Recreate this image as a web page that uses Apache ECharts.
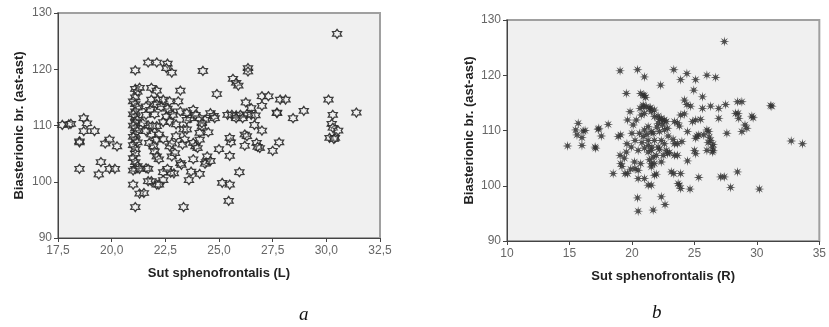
<!DOCTYPE html>
<html>
<head>
<meta charset="utf-8">
<script src="https://cdn.jsdelivr.net/npm/echarts@6/dist/echarts.min.js"></script>
<style>
  html, body { margin: 0; padding: 0; background: #fff; }
  #chart { width: 829px; height: 327px; }
</style>
</head>
<body>
<div id="chart"></div>
<script>
// left panel (a): Sut sphenofrontalis (L) vs Biasterionic br.
const leftPoints = [
  [17.7,110.1],[18.0,110.2],[18.1,110.3],[18.5,107.2],[18.5,107.0],[18.5,102.3],[18.7,111.3],[18.85,110.4],
  [18.7,109.0],[19.2,109.0],[19.4,101.3],[19.5,103.5],[19.7,106.8],[19.9,107.5],[19.9,102.3],[20.15,102.3],
  [20.25,106.3],[21.0,99.5],[21.1,119.8],[21.1,95.5],[21.3,97.9],[21.5,98.0],
  [21.1,116.5],[21.2,116.0],[21.1,115.0],[21.0,114.3],[21.1,113.8],[21.2,113.2],[21.1,112.5],[21.0,112.0],
  [21.1,111.5],[21.2,111.0],[21.1,110.5],[21.0,110.0],[21.1,109.5],[21.2,109.0],[21.1,108.4],[21.0,108.0],
  [21.1,107.4],[21.2,107.0],[21.0,106.5],[21.1,105.8],[21.1,105.0],[21.0,104.2],[21.1,103.5],[21.2,102.8],
  [21.1,102.3],[21.0,102.0],
  [21.3,116.7],[21.7,121.2],[22.1,121.2],[22.6,121.0],[22.55,120.2],[22.8,119.4],[21.85,116.7],[22.1,116.2],
  [21.85,114.6],[22.15,114.6],[22.1,113.8],[22.4,114.6],[22.7,114.3],[23.1,114.3],[23.2,116.2],[23.2,112.5],
  [24.25,119.7],[24.9,115.6],[25.65,118.3],[25.8,117.6],[25.9,117.1],[26.35,120.2],[26.35,119.6],[26.25,114.1],
  [26.5,113.1],[27.0,113.5],[27.0,115.2],[27.3,115.2],[27.85,114.6],[28.1,114.6],[27.7,112.3],[27.7,112.2],
  [28.45,111.3],[28.95,112.6],[30.1,114.6],[30.3,111.9],[30.25,110.3],[30.3,109.6],[30.15,107.8],[30.4,107.8],
  [30.35,107.6],[30.55,109.1],[30.5,126.3],[31.4,112.3],
  [27.0,109.1],[26.75,106.9],[26.9,106.0],[26.8,106.2],[27.5,105.5],[27.8,107.0],[26.65,110.1],[26.2,108.4],
  [26.3,108.1],[26.2,106.4],[25.95,101.7],[25.15,99.8],[25.5,99.5],[25.45,96.6],[25.5,104.6],[25.55,107.0],
  [25.5,107.8],[25.0,105.8],
  [25.4,111.9],[25.6,111.9],[25.8,111.8],[26.0,111.9],[26.3,112.0],[26.5,111.9],[26.7,111.8],[25.8,111.3],
  [26.1,111.3],
  [23.35,95.5],[23.6,100.3],[23.7,101.8],[24.1,101.4],[24.4,103.5],[24.35,103.2],[24.45,104.5],[22.9,101.5],
  [22.75,101.6],[22.4,101.7],[22.1,99.5],[21.85,100.1],[21.7,100.1],[21.6,102.4],[21.7,102.3],[21.3,102.3],
  [22.4,100.3],[22.2,99.5],[23.2,103.3],[23.25,103.0],[22.8,104.5],[22.7,106.3],[22.95,105.1],[23.0,108.1],
  [23.35,109.3],[23.5,109.3],[23.4,107.5],[23.3,106.6],[23.8,106.9],[23.9,106.3],[24.1,107.5],[24.1,108.7],
  [24.2,109.8],[24.35,111.0],[24.6,112.2],[24.75,111.7],[24.8,111.3],[24.1,111.3],[23.8,112.8],[23.65,111.3],
  [23.5,111.0],[22.7,112.5],[22.85,111.9],[22.55,111.6],[22.7,110.7],[22.4,110.6],[22.1,109.9],[21.85,108.4],
  [21.7,110.0],[21.9,109.9],[21.45,110.4],[21.6,111.9],[21.6,113.4],[21.75,106.9],[21.95,106.3],[22.0,105.4],
  [22.1,104.5],[22.2,104.0],[22.1,107.5],[22.2,108.4],
  [21.8,112.8],[22.0,112.0],[22.3,113.3],[22.6,113.0],[21.6,109.0],[22.4,107.6],[22.8,106.8],[23.0,110.2],
  [23.5,112.2],[23.9,111.9],[24.2,110.4],[24.5,108.8],[24.0,106.0],[23.8,104.0],[22.6,102.3],[24.6,103.7]
];

// right panel (b): Sut sphenofrontalis (R) vs Biasterionic br.
const rightPoints = [
  [14.85,107.2],[15.7,111.3],[15.5,110.1],[15.6,109.2],[16.0,108.7],[16.1,109.9],[16.25,110.0],[16.0,107.3],
  [17.05,107.0],[17.1,106.8],[17.35,110.4],[17.3,110.2],[17.55,109.0],[18.1,111.1],[18.5,102.2],[18.9,108.9],
  [19.1,109.2],[19.05,120.8],[19.55,116.7],[19.05,105.5],[19.1,104.0],[19.2,103.5],[19.45,102.2],[19.65,102.2],
  [19.55,106.1],[19.95,107.0],[19.85,113.4],[19.65,111.9],[20.45,121.0],[21.0,119.7],[20.7,116.7],[20.9,116.4],
  [20.45,97.8],[20.5,95.4],[21.7,95.6],[22.35,98.0],[22.65,96.6],[22.3,118.2],[23.35,121.0],[24.4,120.3],
  [23.9,119.2],[25.1,119.2],[26.0,120.0],[26.7,119.6],[27.4,126.1],[24.95,117.3],[25.65,116.1],[24.2,115.5],
  [24.7,114.4],[25.65,114.0],[26.3,114.4],[26.95,114.0],[27.5,114.7],[26.95,112.2],[28.45,115.2],[28.8,115.2],
  [28.3,113.1],[28.5,113.1],[28.55,112.2],[29.6,112.6],[29.7,112.3],[28.8,109.8],[29.2,110.4],[29.05,111.0],
  [31.2,114.4],[31.1,114.5],[27.6,109.5],[32.75,108.1],[33.65,107.6],[30.2,99.4],[28.45,102.5],[27.9,99.7],
  [27.1,101.6],[27.4,101.6],[25.35,101.5],[24.45,104.5],[24.65,99.4],[23.9,99.5],[23.8,100.1],[23.7,100.4],
  [23.35,102.2],[23.15,102.5],[23.9,102.2],[23.65,105.5],[23.4,105.5],[22.85,105.8],[22.75,106.4],[23.65,107.6],
  [23.4,107.6],[23.4,111.6],[23.65,111.4],[23.9,112.8],[24.85,111.6],[25.1,111.9],[24.45,109.8],[25.1,108.6],
  [25.35,109.2],[25.75,109.2],[26.0,110.1],[26.15,109.8],[26.3,108.2],[26.45,107.0],[26.45,106.1],[26.0,106.4],
  [26.5,106.4],[25.0,106.4],[25.1,105.8],[21.8,101.9],[21.95,102.1],[21.3,100.1],[21.55,100.1],[21.0,101.3],
  [20.5,101.3],[20.25,103.1],[20.5,102.8],[21.55,104.0],[21.8,104.0],[21.55,103.4],[21.95,105.5],[22.35,104.3],
  [21.3,106.1],[21.55,106.4],[20.5,106.4],[20.25,108.2],[20.6,109.5],[20.9,108.9],[21.0,110.1],[21.3,110.7],
  [21.55,109.8],[21.7,109.5],[21.3,108.2],[21.8,108.2],[21.3,107.3],[20.0,109.5],[20.1,111.0],[20.35,111.9],
  [20.75,112.8],[21.0,113.1],[20.65,114.0],[20.9,114.3],[21.15,114.3],[21.4,114.0],[21.55,113.4],[21.8,112.5],
  [22.1,112.6],[22.35,112.2],[22.6,111.9],[22.75,111.6],[22.1,111.3],[22.45,111.0],[22.6,110.1],[22.85,110.4],
  [22.2,109.8],[22.35,108.2],[22.6,107.6],[22.1,107.0],[21.7,105.2],
  [21.0,116.3],[21.1,116.0],[20.9,114.6],[21.5,114.1],[21.8,113.7],[22.2,112.0],[22.5,111.8],[22.0,110.6],
  [21.2,109.3],[20.8,107.8],[21.0,106.8],[21.6,107.0],[22.2,106.6],[22.5,105.5],[23.0,106.0],[21.4,104.7],
  [20.7,104.0],[20.2,104.3],[19.6,107.6],[19.4,105.0],[19.9,103.0],[22.9,109.0],[23.3,108.4],[24.0,108.0],
  [23.8,110.8],[24.2,113.0],[24.4,114.7],[25.5,112.0],[25.2,109.0],[26.2,108.8],[26.5,107.5],[26.1,107.8]
];

const yRange = [90, 130, 10];
const leftXRange = [17.5, 32.5, 2.5];
const rightXRange = [10, 35, 5];

// star shaped symbols
function starPath(n, inner) {
  let d = '';
  for (let i = 0; i < n * 2; i++) {
    const r = i % 2 ? inner : 1;
    const a = Math.PI * i / n - Math.PI / 2;
    d += (i ? 'L' : 'M') + (50 + 50 * r * Math.cos(a)).toFixed(1) + ',' + (50 + 50 * r * Math.sin(a)).toFixed(1);
  }
  return 'path://' + d + 'Z';
}

const chart = echarts.init(document.getElementById('chart'));

const labelStyle = { color: '#666', fontSize: 12, fontFamily: 'Liberation Sans' };
const nameStyle = { color: '#222', fontSize: 13, fontWeight: 'bold', fontFamily: 'Liberation Sans' };

function xAxisFor(gridIndex, range, title, fmt) {
  return {
    gridIndex: gridIndex,
    type: 'value',
    min: range[0], max: range[1], interval: range[2],
    name: title, nameLocation: 'middle', nameGap: 29, nameTextStyle: nameStyle,
    axisLine: { show: true, lineStyle: { color: '#444', width: 1 } },
    axisTick: { show: true, length: 4, lineStyle: { color: '#444' } },
    axisLabel: Object.assign({ margin: 7, formatter: fmt }, labelStyle),
    splitLine: { show: false }
  };
}

function yAxisFor(gridIndex, gap) {
  return {
    gridIndex: gridIndex,
    type: 'value',
    min: yRange[0], max: yRange[1], interval: yRange[2],
    name: 'Biasterionic br. (ast-ast)', nameLocation: 'middle', nameGap: gap, nameTextStyle: nameStyle,
    axisLine: { show: true, lineStyle: { color: '#444', width: 1 } },
    axisTick: { show: true, length: 4, lineStyle: { color: '#444' } },
    axisLabel: Object.assign({ margin: 6 }, labelStyle),
    splitLine: { show: false }
  };
}

const option = {
  animation: false,
  backgroundColor: '#fff',
  grid: [
    { left: 58, top: 13, width: 322, height: 225, show: true, backgroundColor: '#f0f0f0', borderColor: '#a0a0a0', borderWidth: 2 },
    { left: 507, top: 20, width: 316, height: 221, show: true, backgroundColor: '#f0f0f0', borderColor: '#a0a0a0', borderWidth: 2 }
  ],
  xAxis: [
    xAxisFor(0, leftXRange, 'Sut sphenofrontalis (L)', v => v.toFixed(1).replace('.', ',')),
    xAxisFor(1, rightXRange, 'Sut sphenofrontalis (R)', v => String(v))
  ],
  yAxis: [yAxisFor(0, 32), yAxisFor(1, 31)],
  series: [
    {
      type: 'scatter', xAxisIndex: 0, yAxisIndex: 0,
      symbol: starPath(6, 0.6), symbolSize: 9,
      itemStyle: { color: 'rgba(240,240,240,0.3)', borderColor: '#2a2a2a', borderWidth: 1.3, opacity: 0.9 },
      data: leftPoints
    },
    {
      type: 'scatter', xAxisIndex: 1, yAxisIndex: 1,
      symbol: starPath(8, 0.35), symbolSize: 10,
      itemStyle: { color: '#303030', opacity: 0.85 },
      data: rightPoints
    }
  ],
  graphic: [
    { type: 'text', left: 299, top: 305, style: { text: 'a', font: 'italic 19px "Liberation Serif"', fill: '#111' } },
    { type: 'text', left: 652, top: 303, style: { text: 'b', font: 'italic 19px "Liberation Serif"', fill: '#111' } }
  ]
};

chart.setOption(option);
</script>
</body>
</html>
